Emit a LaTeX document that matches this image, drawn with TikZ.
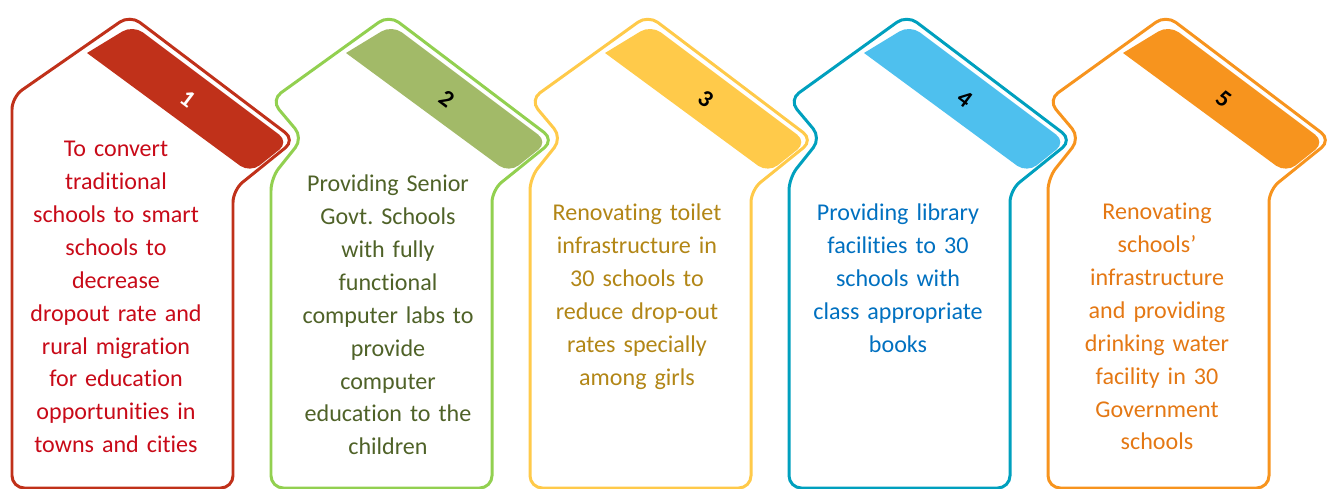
\documentclass[tikz,border=0pt]{standalone}
\usepackage{fontspec}
\setmainfont{Carlito}[Ligatures=NoCommon]
\usepackage{xcolor}
\usepackage{tikz}

\definecolor{redline}{RGB}{192,49,26}
\definecolor{redtext}{RGB}{200,10,24}
\definecolor{greenline}{RGB}{146,208,80}
\definecolor{greenband}{RGB}{162,186,104}
\definecolor{greentext}{RGB}{79,98,40}
\definecolor{yellowline}{RGB}{255,202,74}
\definecolor{yellowtext}{RGB}{178,134,22}
\definecolor{blueline}{RGB}{0,160,190}
\definecolor{blueband}{RGB}{78,192,238}
\definecolor{bluetext}{RGB}{0,112,192}
\definecolor{orangeline}{RGB}{247,148,30}
\definecolor{orangetext}{RGB}{228,120,20}

\tikzset{
	house/.style={line width=1.7pt, rounded corners=7pt},
	num/.style={font=\fontsize{13.7}{16}\selectfont\bfseries, rotate=-37, inner sep=0pt},
	goal/.style={font=\fontsize{13.7}{18.7}\selectfont, align=center, text width=4.2cm, anchor=base, inner sep=0pt}
}

\begin{document}
\frenchspacing
\begin{tikzpicture}[x=0.02cm, y=-0.02cm]
	\useasboundingbox (0,0) rectangle (1338,489);

	% outlines, each one notched where the previous roof sticks out
	\draw[house, redline] (12,488) -- (12,97) -- (130,15) -- (295,140) -- (233,190) -- (233,488) -- cycle;
	\draw[house, greenline] (271,488) -- (271,178) -- (303,138) -- (271,100) -- (389,15) -- (554,140) -- (492,190) -- (492,488) -- cycle;
	\draw[house, yellowline] (530,488) -- (530,178) -- (562,138) -- (530,100) -- (648,15) -- (813,140) -- (751,190) -- (751,488) -- cycle;
	\draw[house, blueline] (789,488) -- (789,178) -- (821,138) -- (789,100) -- (907,15) -- (1072,140) -- (1010,190) -- (1010,488) -- cycle;
	\draw[house, orangeline] (1048,488) -- (1048,178) -- (1080,138) -- (1048,100) -- (1166,15) -- (1331,140) -- (1269,190) -- (1269,488) -- cycle;

	% bands under the roofs
	\fill[redline] (87,53) [rounded corners=7pt] -- (133,25) -- (289,142) -- (250,173) [sharp corners] -- cycle;
	\fill[greenband] (346,53) [rounded corners=7pt] -- (392,25) -- (548,142) -- (509,173) [sharp corners] -- cycle;
	\fill[yellowline] (605,53) [rounded corners=7pt] -- (651,25) -- (807,142) -- (768,173) [sharp corners] -- cycle;
	\fill[blueband] (864,53) [rounded corners=7pt] -- (910,25) -- (1066,142) -- (1027,173) [sharp corners] -- cycle;
	\fill[orangeline] (1123,53) [rounded corners=7pt] -- (1169,25) -- (1325,142) -- (1286,173) [sharp corners] -- cycle;

	\node[num, white] (num1) at (188,99) {1};
	\node[num] (num2) at (447,99) {2};
	\node[num] (num3) at (706,99) {3};
	\node[num] (num4) at (965,99) {4};
	\node[num] (num5) at (1224,99) {5};

	\node[goal, redtext] (goal1) at (116,157) {To convert\\traditional\\schools to smart\\schools to\\decrease\\dropout rate and\\rural migration\\for education\\opportunities in\\towns and cities};
	\node[goal, greentext] (goal2) at (388,192) {Providing Senior\\Govt. Schools\\with fully\\functional\\computer labs to\\provide\\computer\\education to the\\children};
	\node[goal, yellowtext] (goal3) at (637,221) {Renovating toilet\\infrastructure in\\30 schools to\\reduce drop-out\\rates specially\\among girls};
	\node[goal, bluetext] (goal4) at (898,221) {Providing library\\facilities to 30\\schools with\\class appropriate\\books};
	\node[goal, orangetext] (goal5) at (1157,220) {Renovating\\schools’\\infrastructure\\and providing\\drinking water\\facility in 30\\Government\\schools};
\end{tikzpicture}
\end{document}
